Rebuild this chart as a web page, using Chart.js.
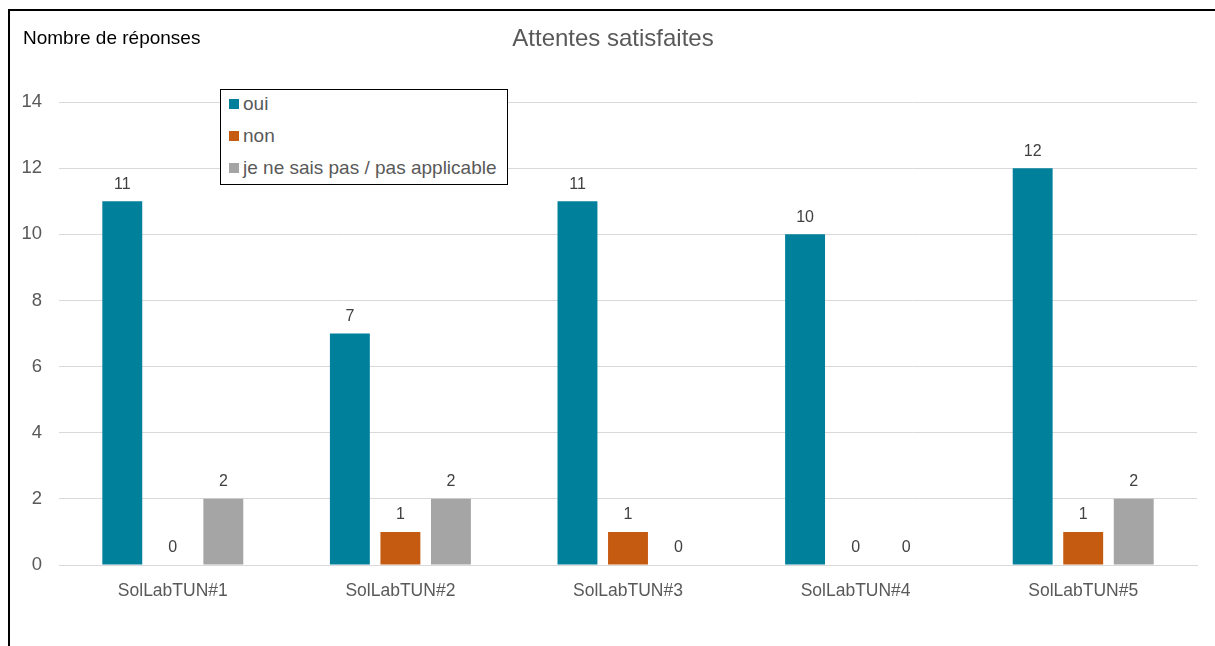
<!DOCTYPE html>
<html>
<head>
<meta charset="utf-8">
<title>Attentes satisfaites</title>
<script src="https://cdn.jsdelivr.net/npm/chart.js@4.4.1/dist/chart.umd.min.js"></script>
<style>
  body { margin:0; background:#fff; font-family:"Liberation Sans", Arial, sans-serif; }
  #wrap { position:absolute; left:0; top:0; width:1215px; height:646px; }
  #frame { position:absolute; left:8px; top:9px; width:1300px; height:700px; border-left:2px solid #000; border-top:2px solid #000; }
  #legend { position:absolute; left:220px; top:89px; width:286px; height:94px; border:1px solid #000; background:#fff; }
  #legend div { position:absolute; left:8px; font-size:19px; line-height:22px; color:#595959; white-space:nowrap; }
  #legend span { display:inline-block; width:10px; height:10px; margin-right:4px; vertical-align:1px; }
</style>
</head>
<body>
<div id="wrap">
  <div id="frame"></div>
  <canvas id="c" width="1215" height="646"></canvas>
  <div id="legend"></div>
</div>
<script>
const categories = ["SolLabTUN#1", "SolLabTUN#2", "SolLabTUN#3", "SolLabTUN#4", "SolLabTUN#5"];
const oui = [11, 7, 11, 10, 12];
const non = [0, 1, 1, 0, 1];
const nsp = [2, 2, 0, 0, 2];
const seriesNames = ["oui", "non", "je ne sais pas / pas applicable"];
const seriesColors = ["#00809B", "#C55A11", "#A5A5A5"];
const yTicks = [0, 2, 4, 6, 8, 10, 12, 14];
const FONT = '"Liberation Sans", Arial, sans-serif';

// values above the bars
const barValues = {
  id: "barValues",
  afterDatasetsDraw(chart) {
    const ctx = chart.ctx;
    ctx.save();
    ctx.font = '16px ' + FONT;
    ctx.fillStyle = "#404040";
    ctx.textAlign = "center";
    ctx.textBaseline = "middle";
    chart.data.datasets.forEach((ds, i) => {
      chart.getDatasetMeta(i).data.forEach((bar, j) => {
        ctx.fillText(String(ds.data[j]), bar.x, bar.y - 17);
      });
    });
    ctx.restore();
  }
};

// title and axis caption
const captions = {
  id: "captions",
  afterDraw(chart) {
    const ctx = chart.ctx;
    ctx.save();
    ctx.textBaseline = "middle";
    ctx.font = '24px ' + FONT;
    ctx.fillStyle = "#595959";
    ctx.textAlign = "center";
    ctx.fillText("Attentes satisfaites", 613, 39);
    ctx.font = '19px ' + FONT;
    ctx.fillStyle = "#000";
    ctx.textAlign = "left";
    ctx.fillText("Nombre de réponses", 23, 39);
    ctx.restore();
  }
};

const chart = new Chart(document.getElementById("c"), {
  type: "bar",
  data: {
    labels: categories,
    datasets: [oui, non, nsp].map((d, i) => ({
      label: seriesNames[i],
      data: d,
      backgroundColor: seriesColors[i],
      categoryPercentage: 0.666,
      barPercentage: 0.79
    }))
  },
  options: {
    responsive: false,
    animation: false,
    layout: { padding: { left: 0, right: 18, top: 102, bottom: 0 } },
    plugins: { legend: { display: false }, title: { display: false }, tooltip: { enabled: false } },
    scales: {
      x: {
        grid: { display: false },
        border: { color: "#d9d9d9" },
        ticks: { color: "#595959", font: { size: 17.5, family: FONT }, padding: 8 },
        afterFit(s) { s.height = 81; }
      },
      y: {
        min: 0, max: 14,
        afterBuildTicks(s) { s.ticks = yTicks.map(v => ({ value: v })); },
        grid: { color: "#d9d9d9", drawTicks: false },
        border: { display: false },
        ticks: { color: "#595959", font: { size: 18.5, family: FONT }, padding: 17 },
        afterFit(s) { s.width = 59; }
      }
    }
  },
  plugins: [barValues, captions]
});

// legend box built from the datasets
const leg = document.getElementById("legend");
chart.data.datasets.forEach((ds, i) => {
  const row = document.createElement("div");
  row.style.top = (3 + i * 32) + "px";
  row.innerHTML = '<span style="background:' + ds.backgroundColor + '"></span>' + ds.label;
  leg.appendChild(row);
});
</script>
</body>
</html>
